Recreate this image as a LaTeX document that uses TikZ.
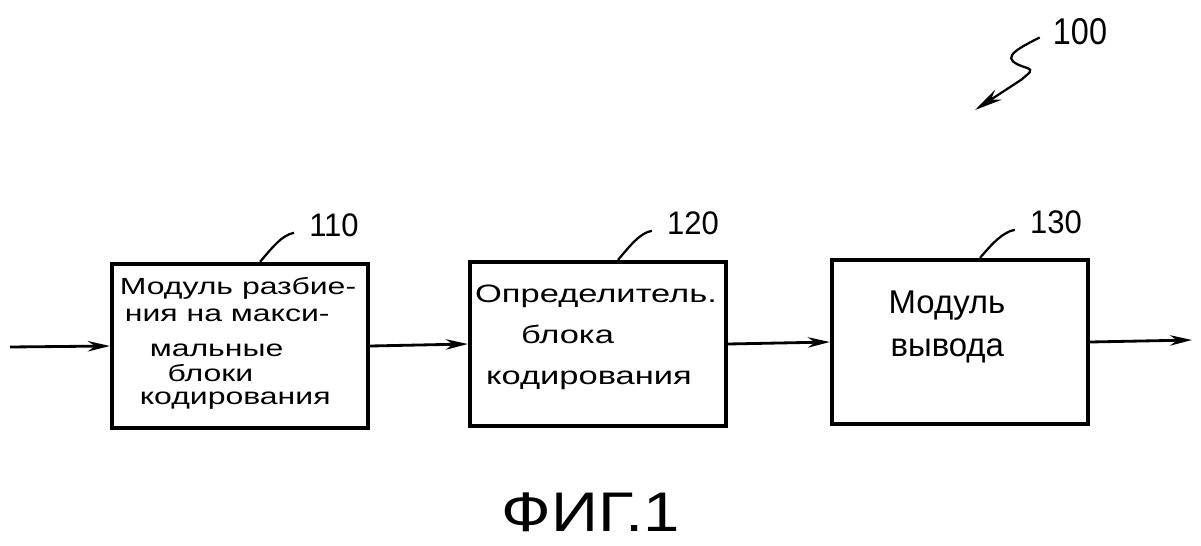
\documentclass[tikz,border=0pt]{standalone}
\usepackage{fontspec}
\setmainfont{Liberation Sans}
\newfontfamily\wideface[FakeStretch=1.37]{Liberation Sans}
\newfontfamily\numface[FakeStretch=0.95]{Liberation Sans}
\newfontfamily\narrowface[FakeStretch=0.87]{Liberation Sans}
\newfontfamily\capface[FakeStretch=1.17]{Liberation Sans}
\usetikzlibrary{arrows.meta}
\usetikzlibrary{positioning}
\tikzset{
  blk/.style={draw, line width=3pt, minimum width=6.4cm, minimum height=4.1cm, inner sep=0pt},
  txt/.style={inner sep=0pt, align=left},
  lnk/.style={line width=2pt, -{Stealth[length=0.55cm,width=0.26cm]}},
  refl/.style={line width=1.6pt},
  refnum/.style={inner sep=0pt, font=\numface\fontsize{23.2}{26}\selectfont}
}

\begin{document}
\begin{tikzpicture}[x=0.025cm, y=-0.025cm]
\useasboundingbox (0,0) rectangle (1201,545);
% blocks
\node[blk] (split) at (240,346) {};
\node[blk] (cudet) at (598,344) {};
\node[blk] (outm) at (960,342) {};
\node[txt, font=\wideface\fontsize{16.6}{17.8}\selectfont] (splitt) at (238,343)
  {Модуль разбие-\\[1.5pt]\hspace*{3.6pt}ния на макси-\\[7pt]\hspace*{21.3pt}мальные\\\hspace*{34pt}блоки\\[-1.4pt]\hspace*{14.2pt}кодирования};
\node[txt, font=\wideface\fontsize{17.9}{29.2}\selectfont] (cudett) at (596,337)
  {Определитель.\\\hspace*{32.7pt}блока\\\hspace*{7.8pt}кодирования};
\node[txt, font=\fontsize{23.4}{30.6}\selectfont] (outmt) at (947,327)
  {Модуль\\\hspace*{1.4pt}вывода};
% connectors
\coordinate (src) at (10,347);
\coordinate (dst) at (1192,340);
\draw[lnk] (src) -- (split.west);
\draw[lnk] (split.east) -- (cudet.west);
\draw[lnk] (cudet.east) -- (outm.west);
\draw[lnk] (outm.east) -- (dst);
% reference numerals
\node[refnum] (n110) at (334,225) {110};
\node[refnum] (n120) at (693,223) {120};
\node[refnum] (n130) at (1056,222) {130};
\node[inner sep=0pt, font=\narrowface\fontsize{26.5}{30}\selectfont] (n100) at (1080,32) {100};
\draw[refl] ([xshift=0.5cm]split.north) .. controls +(12,-14) and +(-12,2) .. ([xshift=-0.375cm,yshift=0.1cm]n110.south west);
\draw[refl] ([xshift=0.5cm]cudet.north) .. controls +(12,-14) and +(-12,2) .. ([xshift=-0.375cm,yshift=0.1cm]n120.south west);
\draw[refl] ([xshift=0.5cm]outm.north) .. controls +(12,-14) and +(-12,2) .. ([xshift=-0.375cm,yshift=0.1cm]n130.south west);
\coordinate (p100) at (975,110);
\draw[refl, -{Stealth[length=0.7cm,width=0.3cm]}] ([xshift=-0.325cm,yshift=0.2cm]n100.south west)
  .. controls +(-30,15) and +(-25,-8) .. ++(-14,30)
  .. controls +(10,3) and +(6,-6) .. ++(-4,12) -- (p100);
% caption
\node[inner sep=0pt, font=\capface\fontsize{39.7}{44}\selectfont] (fig) at (591,512) {ФИГ.1};
\end{tikzpicture}
\end{document}
